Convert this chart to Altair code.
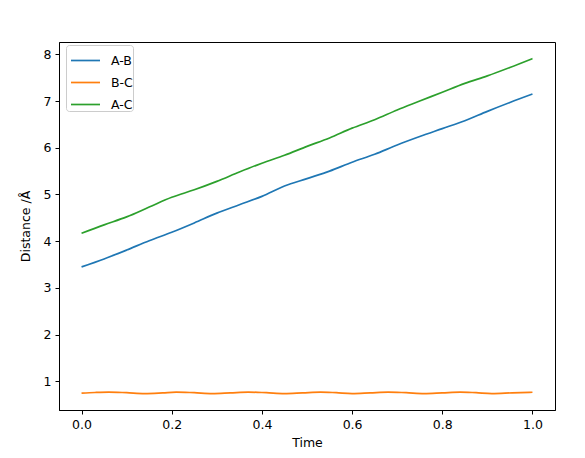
import altair as alt
import pandas as pd

t_lin = [0.00, 0.05, 0.10, 0.15, 0.20, 0.25, 0.30, 0.35, 0.40, 0.45, 0.50,
         0.55, 0.60, 0.65, 0.70, 0.75, 0.80, 0.85, 0.90, 0.95, 1.00]
ab = [3.45, 3.62, 3.81, 4.01, 4.19, 4.39, 4.60, 4.78, 4.96, 5.18, 5.34,
      5.50, 5.69, 5.86, 6.06, 6.24, 6.41, 6.58, 6.78, 6.97, 7.15]
ac = [4.17, 4.35, 4.52, 4.73, 4.94, 5.10, 5.28, 5.48, 5.67, 5.84, 6.03,
      6.21, 6.42, 6.60, 6.81, 7.00, 7.19, 7.38, 7.54, 7.72, 7.91]
t_bc = [0.00, 0.03, 0.06, 0.10, 0.14, 0.18, 0.21, 0.25, 0.29, 0.33, 0.37,
        0.41, 0.45, 0.49, 0.53, 0.565, 0.60, 0.64, 0.68, 0.72, 0.76, 0.80,
        0.84, 0.875, 0.91, 0.955, 1.00]
bc = [0.745, 0.760, 0.768, 0.755, 0.737, 0.752, 0.768, 0.755, 0.737, 0.752, 0.768,
      0.755, 0.737, 0.752, 0.768, 0.755, 0.737, 0.752, 0.768, 0.755, 0.737, 0.752,
      0.768, 0.755, 0.737, 0.752, 0.765]

series = ["A-B", "B-C", "A-C"]
colors = ["#1f77b4", "#ff7f0e", "#2ca02c"]

rows = []
for t, v in zip(t_lin, ab):
    rows.append({"Time": t, "Distance": v, "Pair": "A-B"})
for t, v in zip(t_bc, bc):
    rows.append({"Time": t, "Distance": v, "Pair": "B-C"})
for t, v in zip(t_lin, ac):
    rows.append({"Time": t, "Distance": v, "Pair": "A-C"})
df = pd.DataFrame(rows)

FONT = "DejaVu Sans"
FS = 12.5

chart = alt.Chart(df).mark_line(strokeWidth=1.7, interpolate="monotone").encode(
    x=alt.X("Time:Q",
            scale=alt.Scale(domain=[-0.05, 1.05], nice=False, zero=False),
            axis=alt.Axis(title="Time", values=[0, 0.2, 0.4, 0.6, 0.8, 1.0],
                          format=".1f", grid=False, tickSize=4, labelPadding=4,
                          titlePadding=6)),
    y=alt.Y("Distance:Q",
            scale=alt.Scale(domain=[0.385, 8.265], nice=False, zero=False),
            axis=alt.Axis(title="Distance /Å", values=[1, 2, 3, 4, 5, 6, 7, 8],
                          grid=False, tickSize=4, labelPadding=4, titlePadding=11)),
    color=alt.Color("Pair:N",
                    scale=alt.Scale(domain=series, range=colors),
                    sort=series,
                    legend=alt.Legend(title=None, orient="none", legendX=7, legendY=3,
                                      symbolType="stroke", symbolSize=841,
                                      symbolStrokeWidth=1.7, symbolOffset=4,
                                      labelOffset=10, rowPadding=-8, padding=0,
                                      strokeColor="#cccccc", fillColor="white",
                                      cornerRadius=3, labelFont=FONT,
                                      labelFontSize=FS, labelColor="black")),
    order=alt.Order("Time:Q"),
).properties(
    width=496, height=368,
    background="white",
    autosize=alt.AutoSizeParams(type="none"),
    padding={"left": 51, "top": 34, "right": 22, "bottom": 40},
).configure_view(
    stroke="black", strokeWidth=1
).configure_axis(
    domainColor="black", tickColor="black", labelColor="black", titleColor="black",
    labelFont=FONT, titleFont=FONT, labelFontSize=FS, titleFontSize=FS,
    titleFontWeight="normal", domainWidth=1, tickWidth=1
)

chart.save("out.html", embed_options={"renderer": "svg", "actions": False})
